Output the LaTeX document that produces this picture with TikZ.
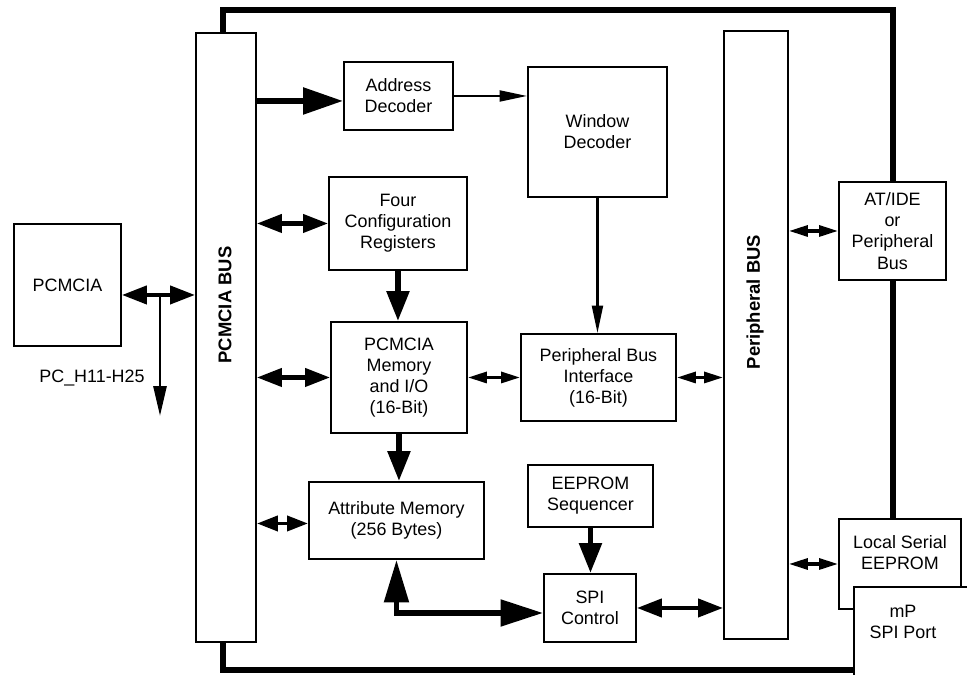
\documentclass[tikz,border=0pt]{standalone}
\usepackage{fontspec}
\setmainfont{Liberation Sans}
\usetikzlibrary{arrows.meta}

\tikzset{
  blk/.style={draw, line width=1.1pt, anchor=north west, align=center, inner sep=0pt,
    fill=white, font=\fontsize{10.2}{12}\selectfont},
  lbl/.style={align=center, font=\fontsize{10.2}{12}\selectfont},
  frame/.style={line width=2.9pt},
  thinarrow/.style={line width=1.2pt, -{Triangle[length=0.55cm,width=0.22cm]}},
  bigarrow/.style={line width=3.2pt, -{Triangle[length=0.8cm,width=0.52cm]}},
  thickarrow/.style={line width=3.2pt, -{Triangle[length=0.6cm,width=0.44cm]}},
  dblbig/.style={line width=2.4pt, {Triangle[length=0.5cm,width=0.36cm]}-{Triangle[length=0.5cm,width=0.36cm]}},
  dblmid/.style={line width=2.2pt, {Triangle[length=0.42cm,width=0.3cm]}-{Triangle[length=0.42cm,width=0.3cm]}},
  dblsmall/.style={line width=1.8pt, {Triangle[length=0.38cm,width=0.22cm]}-{Triangle[length=0.38cm,width=0.22cm]}},
  elbow/.style={line width=3pt, line join=miter, {Triangle[length=0.85cm,width=0.48cm]}-{Triangle[length=0.85cm,width=0.52cm]}}
}

\begin{document}
\begin{tikzpicture}[x=0.02cm, y=-0.02cm]
  \useasboundingbox (0,0) rectangle (967,674);
  \clip (0,0) rectangle (967,674);
  \def\bx{0.02cm}

  % outer frame
  \draw[frame] (223,34) -- (223,10) -- (893,10) -- (893,520);
  \draw[frame] (223,640) -- (223,670) -- (856,670);

  % buses
  \node[blk, minimum width=60*\bx, minimum height=609*\bx] (pcbus) at (195,32) {};
  \node[rotate=90, font=\fontsize{10.5}{12}\selectfont\bfseries] (pcbuslbl) at (225,305) {PCMCIA BUS};
  \node[blk, minimum width=64*\bx, minimum height=608*\bx] (pbus) at (723,30) {};
  \node[rotate=90, font=\fontsize{10.5}{12}\selectfont\bfseries] (pbuslbl) at (755,302) {Peripheral BUS};

  % blocks
  \node[blk, minimum width=107*\bx, minimum height=122*\bx] (pcmcia) at (13,223) {PCMCIA};
  \node[blk, minimum width=109*\bx, minimum height=68*\bx] (addr) at (343,61) {Address\\Decoder};
  \node[blk, minimum width=139*\bx, minimum height=130*\bx] (win) at (527,66) {Window\\Decoder};
  \node[blk, minimum width=138*\bx, minimum height=93*\bx] (cfg) at (328,176) {Four\\Configuration\\Registers};
  \node[blk, minimum width=136*\bx, minimum height=111*\bx] (mem) at (330,321) {PCMCIA\\Memory\\and I/O\\(16-Bit)};
  \node[blk, minimum width=155*\bx, minimum height=87*\bx] (pbi) at (520,333) {Peripheral Bus\\Interface\\(16-Bit)};
  \node[blk, minimum width=175*\bx, minimum height=77*\bx] (attr) at (308,481) {Attribute Memory\\(256 Bytes)};
  \node[blk, minimum width=125*\bx, minimum height=62*\bx] (eseq) at (527,464) {EEPROM\\Sequencer};
  \node[blk, minimum width=92*\bx, minimum height=68*\bx] (spi) at (543,573) {SPI\\Control};
  \node[blk, minimum width=107*\bx, minimum height=98*\bx] (atide) at (838,181) {AT/IDE\\or\\Peripheral\\Bus};
  \node[blk, minimum width=122*\bx, minimum height=90*\bx] (lse) at (838,518) {};
  \node[lbl] (lselbl) at (900,553) {Local Serial\\EEPROM};
  \node[blk, minimum width=140*\bx, minimum height=110*\bx] (mp) at (853,586) {};
  \node[lbl] (mplbl) at (903,622) {mP\\SPI Port};

  % PCMCIA side
  \coordinate (tap) at (160,295);
  \coordinate (hbits) at (160,416);
  \draw[dblbig] ([yshift=-0.2cm]pcmcia.east) -- ([yshift=-0.2cm]pcmcia.east -| pcbus.west);
  \draw[line width=1.6pt, -{Triangle[length=0.6cm,width=0.26cm]}] (tap) -- (hbits);
  \node[lbl] (hbitslbl) at (92,378) {PC\_H11-H25};

  % connectors
  \draw[bigarrow] ([yshift=-0.1cm]pcbus.east |- addr.west) -- ([yshift=-0.1cm]addr.west);
  \draw[thinarrow] (addr.east) -- (addr.east -| win.west);
  \draw[thinarrow] (win.south) -- (win.south |- pbi.north);
  \draw[dblbig] (pcbus.east |- cfg.west) -- (cfg.west);
  \draw[thickarrow] (cfg.south) -- (cfg.south |- mem.north);
  \draw[dblbig] (pcbus.east |- mem.west) -- (mem.west);
  \draw[dblsmall] (mem.east) -- (mem.east -| pbi.west);
  \draw[dblsmall] (pbi.east) -- (pbi.east -| pbus.west);
  \draw[thickarrow] (mem.south) -- (mem.south |- attr.north);
  \draw[dblmid] ([yshift=-0.06cm]pcbus.east |- attr.west) -- ([yshift=-0.06cm]attr.west);
  \draw[thickarrow] (eseq.south) -- (eseq.south |- spi.north);
  \draw[elbow] (attr.south) -- ([yshift=-0.1cm]attr.south |- spi.west) -- ([yshift=-0.1cm]spi.west);
  \draw[dblbig] (spi.east) -- (spi.east -| pbus.west);
  \draw[dblsmall] (pbus.east |- atide.west) -- (atide.west);
  \draw[dblsmall] (pbus.east |- lse.west) -- (lse.west);
\end{tikzpicture}
\end{document}
